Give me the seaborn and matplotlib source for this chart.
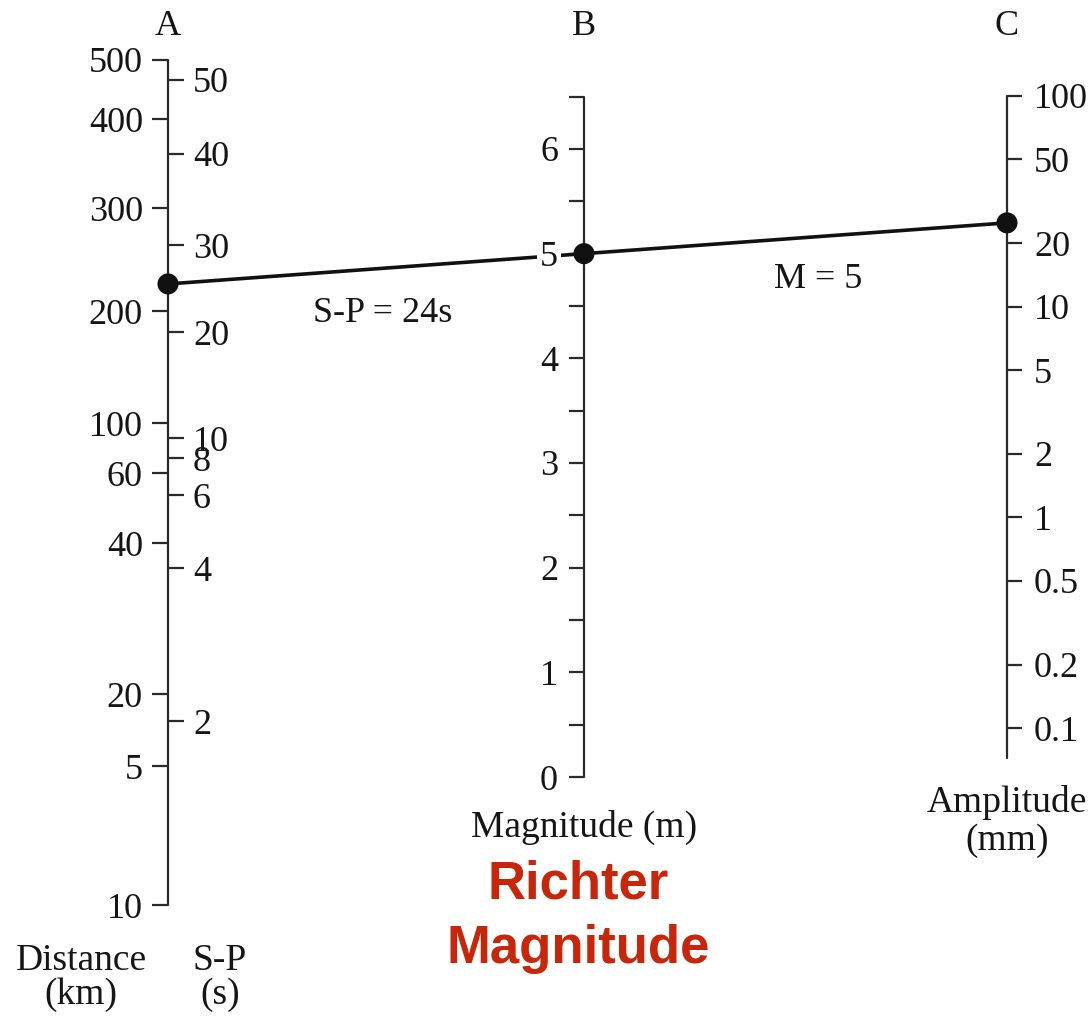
import numpy as np
import pandas as pd
import seaborn as sns
import matplotlib.pyplot as plt

# scale A: distance (km) on the left, S-P time (s) on the right
dist_labels = ["500", "400", "300", "200", "100", "60", "40", "20", "5", "10"]
dist_y = [60, 119, 208, 311, 423, 473, 543, 694, 766, 905]
sp_labels = ["50", "40", "30", "20", "10", "8", "6", "4", "2"]
sp_y = [80, 154, 245, 332, 438, 458, 495, 568, 721]

# scale B: magnitude, linear
mag_major = [0, 1, 2, 3, 4, 5, 6]
mag_minor = [0.5, 1.5, 2.5, 3.5, 4.5, 5.5, 6.5]

# scale C: amplitude (mm), log
amp_ticks = [100, 50, 20, 10, 5, 2, 1, 0.5, 0.2, 0.1]
amp_labels = ["100", "50", "20", "10", "5", "2", "1", "0.5", "0.2", "0.1"]

# example reading
event_mag = 5
event_amp = 25

# nomogram geometry (pixel space)
xA, xB, xC = 168, 584, 1007
def mag_to_y(m):
    return 777 - 104.67 * np.asarray(m, dtype=float)
def amp_to_y(a):
    return 96 + 210.7 * (2 - np.log10(np.asarray(a, dtype=float)))

sns.set_theme(style="white")
plt.rcParams["font.family"] = ["Liberation Serif", "DejaVu Serif"]
plt.rcParams["text.color"] = "#151515"
ink = "#2a2a2a"

fig = plt.figure(figsize=(10.91, 10.21), dpi=100)
ax = fig.add_axes([0, 0, 1, 1])
ax.set_xlim(0, 1091)
ax.set_ylim(1021, 0)
ax.axis("off")

fs = 26   # tick labels
fl = 27   # axis titles

# axis A
ax.plot([xA, xA], [dist_y[0], dist_y[-1]], color=ink, lw=1.6)
ax.hlines(dist_y, xA - 16, xA, color=ink, lw=1.6)
ax.hlines(sp_y, xA, xA + 16, color=ink, lw=1.6)
for lab, y in zip(dist_labels, dist_y):
    ax.text(xA - 25, y, lab, ha="right", va="center_baseline", fontsize=fs)
for lab, y in zip(sp_labels, sp_y):
    ax.text(xA + 25, y, lab, ha="left", va="center_baseline", fontsize=fs)

# axis B
yB = mag_to_y(mag_major)
yBm = mag_to_y(mag_minor)
ax.plot([xB, xB], [yB[0], yBm[-1]], color=ink, lw=1.6)
ax.hlines(yB, xB - 15, xB, color=ink, lw=1.6)
ax.hlines(yBm, xB - 15, xB, color=ink, lw=1.6)
for m, y in zip(mag_major, yB):
    box = dict(facecolor="white", edgecolor="none", pad=2) if m == event_mag else None
    ax.text(xB - 26, y, str(m), ha="right", va="center_baseline", fontsize=fs,
            bbox=box, zorder=5)

# axis C
yC = amp_to_y(amp_ticks)
ax.plot([xC, xC], [yC[0], amp_to_y(0.072)], color=ink, lw=1.6)
ax.hlines(yC, xC, xC + 15, color=ink, lw=1.6)
for lab, y in zip(amp_labels, yC):
    ax.text(xC + 27, y, lab, ha="left", va="center_baseline", fontsize=fs)

# reading line: amplitude -> magnitude, extended to scale A
pB = float(mag_to_y(event_mag))
pC = float(amp_to_y(event_amp))
pA = pB + (pB - pC) * (xB - xA) / (xC - xB)
line = pd.DataFrame({"x": [xA, xB, xC], "y": [pA, pB, pC]})
sns.lineplot(data=line, x="x", y="y", sort=False, color="#111111", lw=2.6,
             ax=ax, zorder=3)
sns.scatterplot(data=line, x="x", y="y", color="#111111", s=230,
                edgecolor="none", ax=ax, zorder=4)
ax.set_xlabel("")
ax.set_ylabel("")

ax.text(383, 309, "S-P = 24s", ha="center", va="center_baseline", fontsize=fs)
ax.text(818, 275, "M = 5", ha="center", va="center_baseline", fontsize=fs)

# scale headings
for lab, x in zip(["A", "B", "C"], [xA, xB, xC]):
    ax.text(x, 35, lab, ha="center", va="baseline", fontsize=fs)

# axis titles
ax.text(81, 970, "Distance", ha="center", va="baseline", fontsize=fl)
ax.text(81, 1004, "(km)", ha="center", va="baseline", fontsize=fl)
ax.text(220, 970, "S-P", ha="center", va="baseline", fontsize=fl)
ax.text(220, 1004, "(s)", ha="center", va="baseline", fontsize=fl)
ax.text(xB, 837, "Magnitude (m)", ha="center", va="baseline", fontsize=fl)
ax.text(xC, 812, "Amplitude", ha="center", va="baseline", fontsize=fl)
ax.text(xC, 850, "(mm)", ha="center", va="baseline", fontsize=fl)

red = "#c8260a"
ax.text(578, 898, "Richter", ha="center", va="baseline", fontsize=38,
        color=red, fontweight="bold", family=["Liberation Sans", "DejaVu Sans"])
ax.text(578, 963, "Magnitude", ha="center", va="baseline", fontsize=38,
        color=red, fontweight="bold", family=["Liberation Sans", "DejaVu Sans"])

fig.savefig("out.png", dpi=100)
